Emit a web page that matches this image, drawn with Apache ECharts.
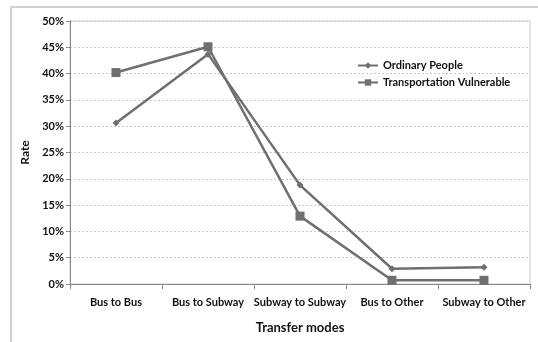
<!DOCTYPE html>
<html>
<head>
<meta charset="utf-8">
<script src="https://cdn.jsdelivr.net/npm/echarts@6/dist/echarts.min.js"></script>
<style>
  html, body { margin: 0; padding: 0; background: #fff; }
  #chart { width: 538px; height: 342px; }
</style>
</head>
<body>
<div id="chart"></div>
<script>
const categories = ['Bus to Bus', 'Bus to Subway', 'Subway to Subway', 'Bus to Other', 'Subway to Other']
const ordinaryPeople = [30.6, 43.7, 18.8, 2.9, 3.2]
const transportationVulnerable = [40.2, 45.1, 12.9, 0.7, 0.7]
const yTicks = [0, 5, 10, 15, 20, 25, 30, 35, 40, 45, 50]

const font = 'Lato, "Open Sans", sans-serif'
const chart = echarts.init(document.getElementById('chart'))

chart.setOption({
  animation: false,
  graphic: [
    {
      type: 'rect',
      shape: { x: 11, y: 7, width: 540, height: 350 },
      style: { fill: 'none', stroke: '#d0d0d0', lineWidth: 2 },
      silent: true,
    },
  ],
  grid: { left: 70, right: 8, top: 21, bottom: 58, show: true, borderColor: '#c8c8c8', borderWidth: 1 },
  legend: {
    orient: 'vertical',
    left: 352,
    top: 55,
    itemGap: 6,
    itemWidth: 20,
    itemHeight: 8,
    textStyle: { fontFamily: font, fontWeight: 'bold', fontSize: 11, color: '#111' },
    data: ['Ordinary People', 'Transportation Vulnerable'],
  },
  xAxis: {
    type: 'category',
    data: categories,
    name: 'Transfer modes',
    nameLocation: 'middle',
    nameGap: 37,
    nameTextStyle: { fontFamily: font, fontWeight: 'bold', fontSize: 13, color: '#111' },
    axisLine: { lineStyle: { color: '#888' } },
    axisTick: { show: true, length: 5, lineStyle: { color: '#888' } },
    axisLabel: { interval: 0, fontFamily: font, fontWeight: 'bold', fontSize: 11, color: '#111', margin: 13 },
  },
  yAxis: {
    type: 'value',
    min: 0,
    max: 50,
    interval: 5,
    name: 'Rate',
    nameLocation: 'middle',
    nameGap: 34,
    nameRotate: 90,
    nameTextStyle: { fontFamily: font, fontWeight: 'bold', fontSize: 12, color: '#111' },
    axisLine: { show: true, lineStyle: { color: '#888' } },
    axisTick: { show: true, length: 4, lineStyle: { color: '#888' } },
    axisLabel: {
      fontFamily: font, fontWeight: 'bold', fontSize: 11, color: '#111', margin: 6,
      formatter: (v) => (yTicks.includes(v) ? v + '%' : ''),
    },
    splitLine: { lineStyle: { color: '#c8c8c8', type: [2, 2] } },
  },
  series: [
    {
      name: 'Ordinary People',
      type: 'line',
      data: ordinaryPeople,
      symbol: 'diamond',
      symbolSize: 7,
      lineStyle: { width: 2.5, color: '#6f6f6f' },
      itemStyle: { color: '#6f6f6f' },
    },
    {
      name: 'Transportation Vulnerable',
      type: 'line',
      data: transportationVulnerable,
      symbol: 'rect',
      symbolSize: 9,
      lineStyle: { width: 2.5, color: '#6f6f6f' },
      itemStyle: { color: '#6f6f6f' },
    },
  ],
})
</script>
</body>
</html>
